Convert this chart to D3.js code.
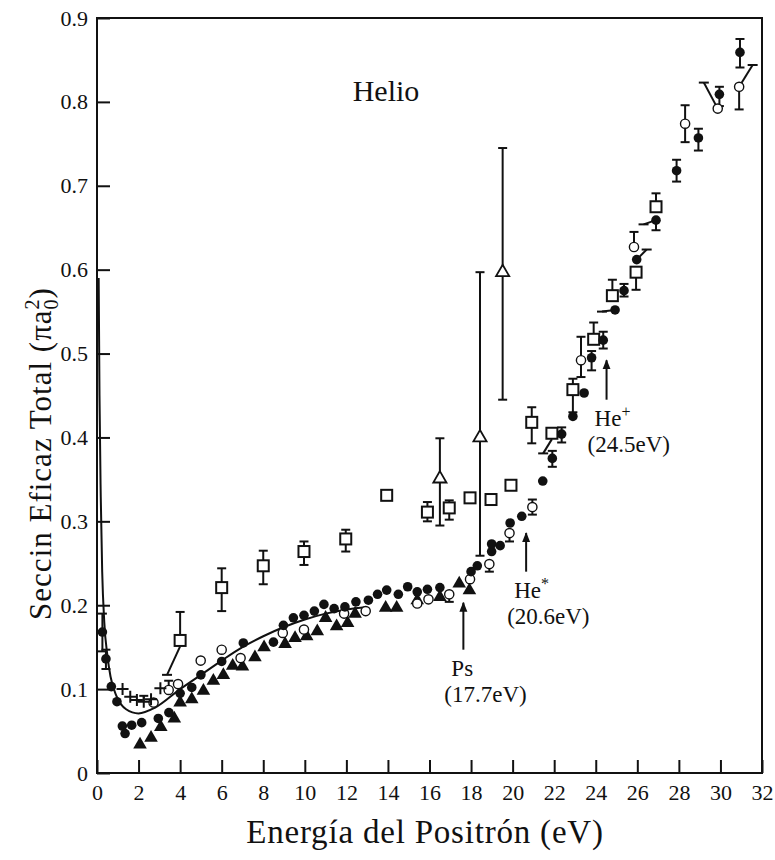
<!DOCTYPE html>
<html>
<head>
<meta charset="utf-8">
<script src="https://cdn.jsdelivr.net/npm/d3@7"></script>
<style>
  body { margin: 0; background: #fff; }
</style>
</head>
<body>
<div id="chart"></div>
<script>
// axis ticks
const xTicks = [0, 2, 4, 6, 8, 10, 12, 14, 16, 18, 20, 22, 24, 26, 28, 30, 32];
const yTicks = [0, 0.1, 0.2, 0.3, 0.4, 0.5, 0.6, 0.7, 0.8, 0.9];
const yTickLabels = ["0", "0.1", "0.2", "0.3", "0.4", "0.5", "0.6", "0.7", "0.8", "0.9"];

// [energy, sigma, errLow, errHigh]
const filledCircles = [
  [0.26, 0.168, 0.145, 0.19], [0.43, 0.136, 0.124, 0.147], [0.69, 0.103], [0.96, 0.085],
  [1.22, 0.056], [1.35, 0.047], [1.67, 0.057], [2.15, 0.060], [2.95, 0.065], [3.46, 0.072],
  [4.0, 0.095], [4.56, 0.102], [5.0, 0.117], [6.0, 0.133], [7.04, 0.155], [8.49, 0.156],
  [8.97, 0.176], [9.45, 0.185], [9.96, 0.188], [10.46, 0.193], [10.92, 0.201], [11.41, 0.196],
  [11.93, 0.198], [12.46, 0.204], [13.06, 0.206], [13.5, 0.213], [13.94, 0.218], [14.5, 0.213],
  [14.95, 0.222], [15.41, 0.216], [15.9, 0.219], [16.5, 0.221], [18.0, 0.240], [18.3, 0.247],
  [18.99, 0.264], [18.99, 0.273], [19.4, 0.271], [19.88, 0.298], [20.44, 0.306], [21.45, 0.348],
  [21.91, 0.375, 0.365, 0.384], [22.36, 0.404, 0.394, 0.412], [22.9, 0.425], [23.44, 0.453],
  [23.8, 0.495, 0.48, 0.503], [24.36, 0.516, 0.506, 0.526], [24.93, 0.552], [25.36, 0.575, 0.568, 0.583],
  [25.97, 0.612], [26.9, 0.659, 0.647], [27.89, 0.718, 0.705, 0.731], [28.94, 0.757, 0.742, 0.768],
  [29.95, 0.809, 0.795, 0.818], [30.94, 0.859, 0.841, 0.875]
];
const openCircles = [
  [2.72, 0.084], [3.45, 0.099, null, 0.11], [3.9, 0.106], [4.99, 0.134], [6.0, 0.147], [6.91, 0.137],
  [8.94, 0.167], [9.96, 0.171], [11.89, 0.190], [12.93, 0.193], [15.41, 0.202], [15.95, 0.207],
  [16.95, 0.213, 0.204], [17.95, 0.231], [18.88, 0.249, 0.240], [19.85, 0.286, 0.276],
  [20.95, 0.317, 0.308, 0.326], [23.29, 0.492, 0.472, 0.520], [25.84, 0.627, null, 0.645],
  [28.3, 0.774, 0.752, 0.796], [29.87, 0.792], [30.9, 0.818, 0.791]
];
const filledTriangles = [
  [2.07, 0.035], [2.6, 0.043], [3.07, 0.056], [3.72, 0.066], [4.0, 0.085], [4.56, 0.089],
  [5.12, 0.099], [5.6, 0.111], [6.08, 0.118], [6.53, 0.129], [7.0, 0.128], [7.6, 0.139],
  [8.04, 0.151], [9.05, 0.155], [9.53, 0.162], [10.09, 0.164], [10.6, 0.170], [11.0, 0.186],
  [11.53, 0.176], [12.06, 0.180], [12.42, 0.191], [13.89, 0.198], [14.42, 0.198], [15.41, 0.207],
  [16.5, 0.211], [17.43, 0.227], [17.92, 0.219]
];
const openSquares = [
  [4.0, 0.158, null, 0.192], [6.0, 0.221, 0.193, 0.244], [8.0, 0.247, 0.225, 0.265],
  [9.96, 0.264, 0.248, 0.276], [11.97, 0.279, 0.264, 0.290], [13.94, 0.331],
  [15.9, 0.311, 0.300, 0.323], [16.95, 0.316, 0.302, 0.325], [17.95, 0.328], [18.96, 0.326],
  [19.92, 0.343], [20.92, 0.418, 0.393, 0.436], [21.89, 0.405], [22.9, 0.457, 0.43, 0.470],
  [23.9, 0.517, null, 0.537], [24.8, 0.569, null, 0.588], [25.94, 0.597, 0.576], [26.9, 0.675, null, 0.691]
];
const openTriangles = [
  [16.5, 0.352, 0.295, 0.399], [18.43, 0.401, 0.259, 0.597], [19.52, 0.598, 0.445, 0.745]
];
const crosses = [
  [1.23, 0.100], [1.6, 0.091], [1.92, 0.087], [2.25, 0.085, null, 0.092], [2.6, 0.088], [3.05, 0.101]
];
// displaced points: [from energy, from sigma, to energy, to sigma]
const leaders = [
  [4.0, 0.151, 3.37, 0.117], [21.89, 0.398, 21.47, 0.381], [24.93, 0.552, 24.3, 0.550],
  [25.97, 0.612, 26.45, 0.624], [26.9, 0.659, 26.3, 0.654], [29.87, 0.792, 29.2, 0.823],
  [30.9, 0.818, 31.55, 0.844]
];
// theory curve
const theoryE = [0.08, 0.12, 0.18, 0.25, 0.35, 0.5, 0.65, 0.95, 1.4, 2.0, 2.8, 4, 5, 6, 7, 8, 9, 10, 11, 12, 13];
const theoryS = [0.59, 0.45, 0.33, 0.24, 0.18, 0.14, 0.115, 0.091, 0.076, 0.071, 0.078, 0.1, 0.117, 0.134, 0.15, 0.163, 0.174, 0.183, 0.19, 0.195, 0.198];
// thresholds
const thrName = ["Ps", "He", "He"];
const thrSup = ["", "*", "+"];
const thrValue = ["(17.7eV)", "(20.6eV)", "(24.5eV)"];
const thrEnergy = [17.63, 20.65, 24.52];
const thrTip = [0.203, 0.286, 0.492];
const thrTail = [0.147, 0.240, 0.445];

const FONT = "Liberation Serif";
const W = 775, H = 860;
const margin = { top: 18, right: 13, bottom: 87, left: 97 };
const svg = d3.select("#chart").append("svg").attr("width", W).attr("height", H)
  .attr("font-family", FONT);
const x = d3.scaleLinear().domain([0, 32]).range([margin.left, W - margin.right]);
const y = d3.scaleLinear().domain([0, 0.9]).range([H - margin.bottom, margin.top]);

// text-anchor is done by hand: shift the x by the measured width
function place(sel, frac) {
  sel.attr("text-anchor", "start").each(function () {
    const w = this.getComputedTextLength();
    const x0 = +this.getAttribute("x") || 0;
    this.setAttribute("x", x0 - w * frac);
  });
}

svg.append("defs").append("marker")
  .attr("id", "arrow").attr("viewBox", "0 0 10 10").attr("refX", 9).attr("refY", 5)
  .attr("markerWidth", 10).attr("markerHeight", 11).attr("markerUnits", "userSpaceOnUse")
  .attr("orient", "auto")
  .append("path").attr("d", "M0,1 L10,5 L0,9 Z").attr("fill", "#111");

// axes
const xAxis = svg.append("g").attr("transform", "translate(0," + y(0) + ")")
  .call(d3.axisBottom(x).tickValues(xTicks).tickFormat(d3.format("d")).tickSize(-13).tickPadding(11));
const yAxis = svg.append("g").attr("transform", "translate(" + x(0) + ",0)")
  .call(d3.axisLeft(y).tickValues(yTicks).tickFormat((d, i) => yTickLabels[i]).tickSize(-13).tickPadding(9));
[[xAxis, 0.5], [yAxis, 1]].forEach(([g, frac]) => {
  g.attr("font-family", FONT).attr("font-size", 22).attr("text-anchor", "start");
  g.select(".domain").remove();
  g.selectAll("line").attr("stroke", "#111").attr("stroke-width", 2);
  g.selectAll("text").attr("fill", "#111").call(place, frac);
});

svg.append("rect").attr("x", x(0)).attr("y", y(0.9))
  .attr("width", x(32) - x(0)).attr("height", y(0) - y(0.9))
  .attr("fill", "none").attr("stroke", "#111").attr("stroke-width", 2);

// theory curve
svg.append("path")
  .datum(d3.zip(theoryE, theoryS))
  .attr("fill", "none").attr("stroke", "#111").attr("stroke-width", 2)
  .attr("d", d3.line().x(d => x(d[0])).y(d => y(d[1])).curve(d3.curveMonotoneX));

// error bars
const all = [filledCircles, openCircles, openSquares, openTriangles, crosses];
const errG = svg.append("g").attr("stroke", "#111").attr("stroke-width", 2);
all.forEach(series => series.forEach(d => {
  [d[2], d[3]].forEach(v => {
    if (v == null) return;
    errG.append("line").attr("x1", x(d[0])).attr("x2", x(d[0])).attr("y1", y(d[1])).attr("y2", y(v));
    errG.append("line").attr("x1", x(d[0]) - 4.5).attr("x2", x(d[0]) + 4.5).attr("y1", y(v)).attr("y2", y(v));
  });
}));

// leaders to displaced points
leaders.forEach(d => {
  errG.append("line").attr("x1", x(d[0])).attr("y1", y(d[1])).attr("x2", x(d[2])).attr("y2", y(d[3]));
  errG.append("line").attr("x1", x(d[2]) - 5).attr("y1", y(d[3])).attr("x2", x(d[2]) + 5).attr("y2", y(d[3]));
});

// markers
svg.append("g").selectAll("rect").data(openSquares).join("rect")
  .attr("x", d => x(d[0]) - 5.5).attr("y", d => y(d[1]) - 5.5).attr("width", 11).attr("height", 11)
  .attr("fill", "#fff").attr("stroke", "#111").attr("stroke-width", 2);

const tri = d3.symbol().type(d3.symbolTriangle);
svg.append("g").selectAll("path").data(openTriangles).join("path")
  .attr("transform", d => "translate(" + x(d[0]) + "," + (y(d[1]) + 1) + ")")
  .attr("d", tri.size(75)()).attr("fill", "#fff").attr("stroke", "#111").attr("stroke-width", 1.8);

svg.append("g").selectAll("path").data(filledTriangles).join("path")
  .attr("transform", d => "translate(" + x(d[0]) + "," + (y(d[1]) + 1) + ")")
  .attr("d", tri.size(80)()).attr("fill", "#111");

svg.append("g").selectAll("circle").data(openCircles).join("circle")
  .attr("cx", d => x(d[0])).attr("cy", d => y(d[1])).attr("r", 4.6)
  .attr("fill", "#fff").attr("stroke", "#111").attr("stroke-width", 1.4);

svg.append("g").selectAll("circle").data(filledCircles).join("circle")
  .attr("cx", d => x(d[0])).attr("cy", d => y(d[1])).attr("r", 4.8).attr("fill", "#111");

svg.append("g").attr("stroke", "#111").attr("stroke-width", 2).selectAll("path").data(crosses).join("path")
  .attr("d", d => "M" + (x(d[0]) - 6) + "," + y(d[1]) + "h12M" + x(d[0]) + "," + (y(d[1]) - 6) + "v12");

// threshold arrows
thrEnergy.forEach((e, i) => {
  svg.append("line").attr("x1", x(e)).attr("x2", x(e)).attr("y1", y(thrTail[i])).attr("y2", y(thrTip[i]))
    .attr("stroke", "#111").attr("stroke-width", 2).attr("marker-end", "url(#arrow)");
  const t = svg.append("text").attr("x", x(e) - 12).attr("y", y(thrTail[i]) + 26)
    .attr("font-size", 23).attr("fill", "#111").text(thrName[i]);
  if (thrSup[i]) t.append("tspan").attr("dy", -9).attr("font-size", 16).text(thrSup[i]);
  svg.append("text").attr("x", x(e) - 19).attr("y", y(thrTail[i]) + 52)
    .attr("font-size", 23).attr("fill", "#111").text(thrValue[i]);
});

// titles
svg.append("text").attr("x", 386).attr("y", 101)
  .attr("font-size", 30).attr("fill", "#111").text("Helio").call(place, 0.5);

svg.append("text").attr("x", 425).attr("y", 843)
  .attr("font-size", 33).attr("letter-spacing", 0.8)
  .attr("fill", "#111").text("Energía del Positrón (eV)").call(place, 0.5);

const yl = svg.append("text").attr("transform", "translate(51,448) rotate(-90)")
  .attr("x", 0).attr("font-size", 31).attr("letter-spacing", 1).attr("fill", "#111");
yl.append("tspan").text("Seccin Eficaz Total (πa");
yl.append("tspan").attr("dy", -12).attr("font-size", 20).text("2");
yl.append("tspan").attr("dx", -11).attr("dy", 19).attr("font-size", 20).text("0");
yl.append("tspan").attr("dy", -7).text(")");
yl.call(place, 0.5);
</script>
</body>
</html>
